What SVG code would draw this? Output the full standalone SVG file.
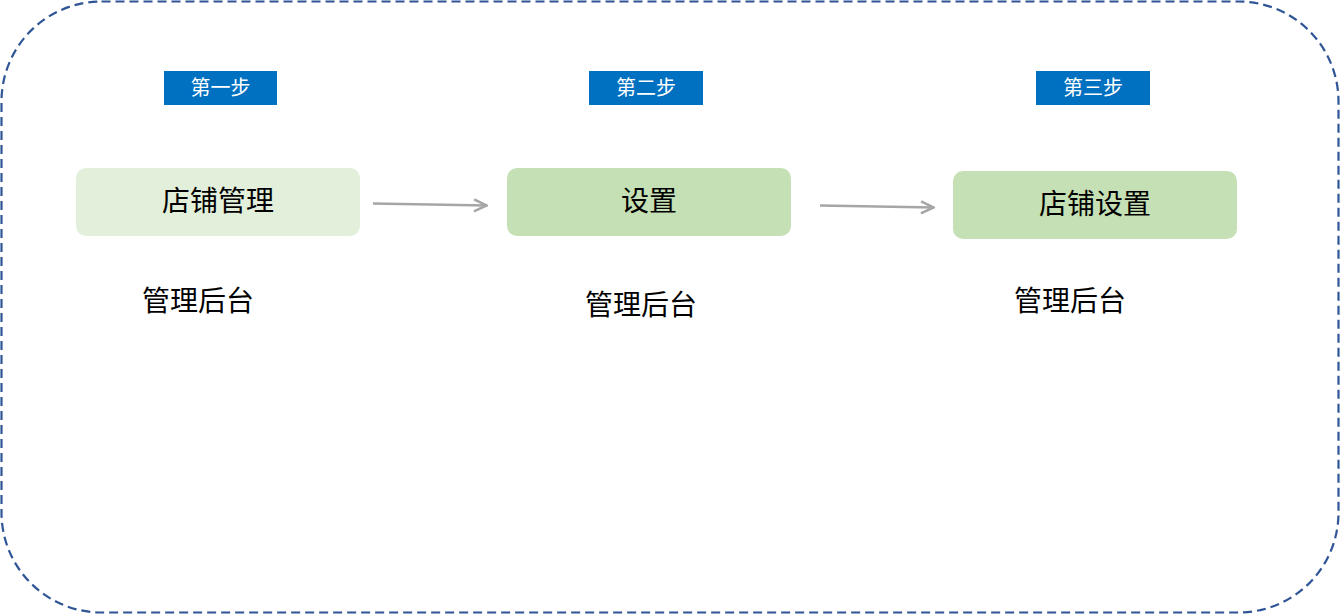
<svg xmlns="http://www.w3.org/2000/svg" width="1341" height="615" viewBox="0 0 1341 615">
<defs>
<style>
.frame{fill:#fff;stroke:#2F5597;stroke-width:2.2;stroke-dasharray:9 5}
.badge rect{fill:#0070C0}
.badge text{fill:#fff;font-family:"Noto Sans CJK SC","Noto Sans",sans-serif;font-size:20px;text-anchor:middle;dominant-baseline:central}
.node text,.label{fill:#000;font-family:"Noto Sans CJK SC","Noto Sans",sans-serif;font-size:28px;text-anchor:middle;dominant-baseline:central}
.conn{stroke:#A6A6A6;stroke-width:2.5;fill:none;marker-end:url(#arr)}
</style>
<marker id="arr" viewBox="0 0 16 16" refX="15" refY="8" markerWidth="16" markerHeight="16" markerUnits="userSpaceOnUse" orient="auto">
<path d="M2 2 L14.5 8 L2 14" fill="none" stroke="#A6A6A6" stroke-width="2.5"/>
</marker>
</defs>
<rect class="frame" x="1.5" y="1.5" width="1337" height="611" rx="100" ry="100"/>
<g id="badge1" class="badge"><rect x="164" y="71" width="113" height="34"/><text x="220.5" y="86">第一步</text></g>
<g id="badge2" class="badge"><rect x="589" y="71" width="114" height="34"/><text x="646" y="86">第二步</text></g>
<g id="badge3" class="badge"><rect x="1036" y="71" width="114" height="34"/><text x="1093" y="86">第三步</text></g>
<g id="node1" class="node"><rect x="76" y="168" width="284" height="68" rx="10" fill="#E2EFDA"/><text x="218" y="199">店铺管理</text></g>
<g id="node2" class="node"><rect x="507" y="168" width="284" height="68" rx="10" fill="#C5E0B4"/><text x="649" y="199">设置</text></g>
<g id="node3" class="node"><rect x="953" y="171" width="284" height="68" rx="10" fill="#C5E0B4"/><text x="1095" y="202">店铺设置</text></g>
<g id="connectors">
<line class="conn" x1="373" y1="203.5" x2="487" y2="205.5"/>
<line class="conn" x1="820" y1="205.5" x2="934" y2="207.5"/>
</g>
<g id="label1"><text class="label" x="198" y="299">管理后台</text></g>
<g id="label2"><text class="label" x="641" y="303">管理后台</text></g>
<g id="label3"><text class="label" x="1070" y="299">管理后台</text></g>
</svg>
